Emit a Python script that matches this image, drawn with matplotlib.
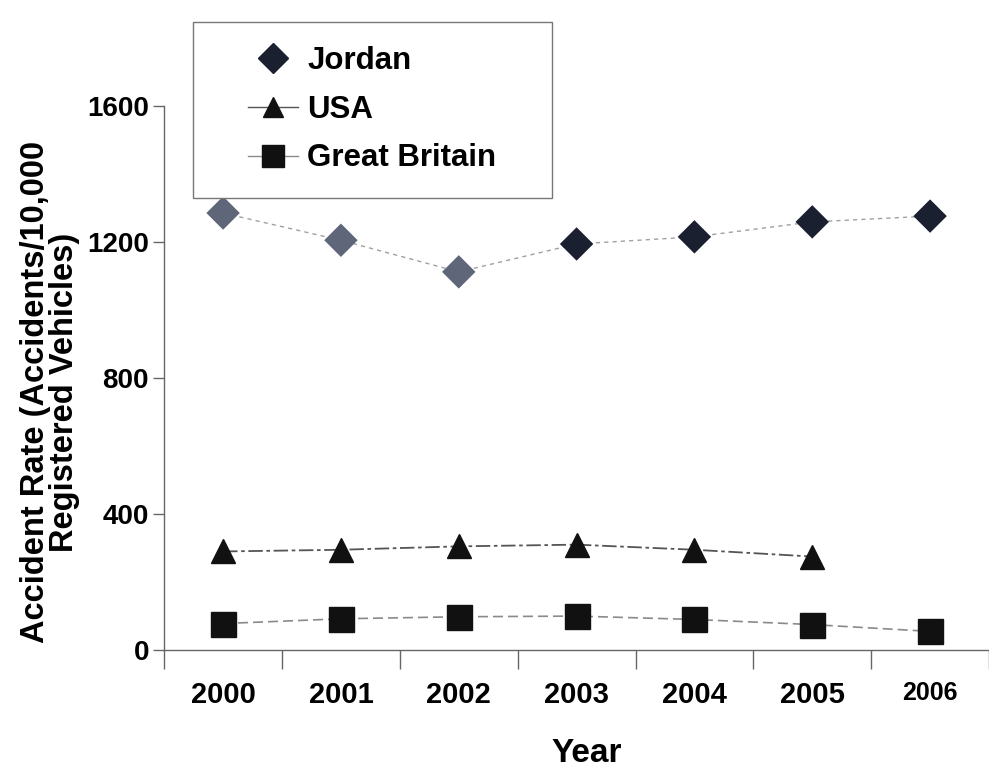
import matplotlib.pyplot as plt
from matplotlib.lines import Line2D
from matplotlib.patches import Rectangle

# accident rates per 10,000 registered vehicles
years = ['2000', '2001', '2002', '2003', '2004', '2005', '2006']
jordan = [1285, 1205, 1112, 1194, 1215, 1259, 1276]
usa = [290, 295, 305, 310, 295, 275]
great_britain = [78, 92, 98, 100, 90, 75, 55]

# the first few Jordan markers came out lighter in print
jordan_colors = ['#5f6679', '#5f6679', '#5f6679', '#1b2030', '#1b2030', '#1b2030', '#1b2030']

FONT = ['Liberation Sans', 'DejaVu Sans']
W, H = 989, 773

fig = plt.figure(figsize=(W / 100, H / 100), dpi=100)
ax = fig.add_axes([0.166, 0.159, 0.834, 0.704])

x_j = range(len(jordan))
x_u = range(len(usa))
x_g = range(len(great_britain))

ax.plot(x_j, jordan, color='#a0a0a0', lw=1.0, ls=(0, (3, 3)), zorder=2)
ax.scatter(x_j, jordan, marker='D', s=290, c=jordan_colors, edgecolors='none', zorder=3)
ax.plot(x_u, usa, color='#555555', lw=1.3, ls=(0, (8, 2, 2, 2)), marker='^',
        ms=17, mfc='#111111', mec='#111111', zorder=3)
ax.plot(x_g, great_britain, color='#8a8a8a', lw=1.2, ls=(0, (6, 3)), marker='s',
        ms=18, mfc='#111111', mec='#111111', zorder=3)

ax.set_xlim(-0.5, 6.25)
ax.set_ylim(0, 1600)

# category axis: tick marks between years, labels centred on each year
ax.set_xticks(range(len(years)))
ax.set_xticklabels(years, fontsize=21, fontweight='bold', family=FONT)
ax.get_xticklabels()[-1].set_fontsize(18)
ax.set_xticks([i - 0.5 for i in range(len(years) + 1)], minor=True)
ax.tick_params(axis='x', which='major', length=0, pad=22)
ax.tick_params(axis='x', which='minor', length=14, width=1.0, color='#666666', direction='out')

ax.set_yticks([0, 400, 800, 1200, 1600])
ax.set_yticklabels(['0', '400', '800', '1200', '1600'], fontsize=20, fontweight='bold', family=FONT)
ax.tick_params(axis='y', length=8, width=1.0, color='#666666', direction='out', pad=3)

for side in ['top', 'right']:
    ax.spines[side].set_visible(False)
for side in ['left', 'bottom']:
    ax.spines[side].set_color('#666666')
    ax.spines[side].set_linewidth(1.0)

fig.text(587 / W, 1 - 754 / H, 'Year', fontsize=24, fontweight='bold', family=FONT,
         ha='center', va='center')
fig.text(50 / W, 1 - 392 / H, 'Accident Rate (Accidents/10,000\nRegistered Vehicles)',
         fontsize=23.5, fontweight='bold', family=FONT, rotation=90, linespacing=0.95,
         ha='center', va='center')

# legend box drawn separately so the entries can sit off-centre in it
fig.patches.append(Rectangle((193 / W, 1 - 198 / H), 359 / W, 176 / H,
                             transform=fig.transFigure, facecolor='white',
                             edgecolor='#777777', lw=1.0, zorder=4))
handles = [
    Line2D([], [], color='none', marker='D', ms=15, mfc='#1b2030', mec='#1b2030'),
    Line2D([], [], color='#555555', lw=1.0, marker='^', ms=15, mfc='#111111', mec='#111111'),
    Line2D([], [], color='#8a8a8a', lw=1.0, marker='s', ms=16, mfc='#111111', mec='#111111'),
]
leg = fig.legend(handles, ['Jordan', 'USA', 'Great Britain'], loc='upper left',
                 bbox_to_anchor=(248 / W, 1 - 46 / H), frameon=False,
                 handlelength=1.6, handletextpad=0.3, labelspacing=0.6, borderpad=0,
                 borderaxespad=0, prop={'family': FONT, 'weight': 'bold', 'size': 22.5})
leg.set_zorder(5)

fig.savefig('out.png', dpi=100)
